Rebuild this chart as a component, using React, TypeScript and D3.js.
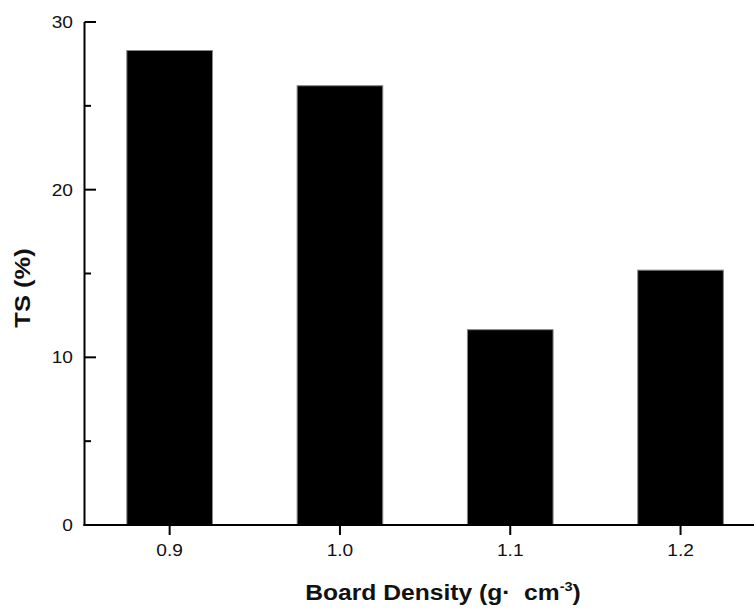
import React from 'react';
import * as d3 from 'd3';

const densities = [0.9, 1.0, 1.1, 1.2];
const tsValues = [28.3, 26.2, 11.65, 15.2];
const yTicks = [0, 10, 20, 30];
const yMinorTicks = [5, 15, 25];

export default function App() {
  const width = 754;
  const height = 612;

  const xScale = d3.scaleLinear().domain([0.85, 1.25]).range([84.5, 765.7]);
  const yScale = d3.scaleLinear().domain([0, 30]).range([525, 22]);
  const barW = xScale(0.9 + 0.05) - xScale(0.9) + 0.5;

  const font = 'Arial, "Liberation Sans", sans-serif';
  const sx = 1.16; // the original text is a bit wide

  return (
    <svg
      width={width}
      height={height}
      style={{ position: 'absolute', left: 0, top: 0, background: '#fff' }}
    >
      {/* bars */}
      {densities.map((d, i) => (
        <rect
          key={d}
          x={xScale(d) - barW / 2}
          y={yScale(tsValues[i])}
          width={barW}
          height={yScale(0) - yScale(tsValues[i])}
          fill="#000"
          stroke="#888"
          strokeWidth={1}
        />
      ))}

      {/* y axis */}
      <line x1={84.5} x2={84.5} y1={yScale(30)} y2={yScale(0) + 1} stroke="#000" strokeWidth={2} />
      {yTicks.map((t) => (
        <g key={t}>
          <line x1={84.5} x2={96} y1={yScale(t)} y2={yScale(t)} stroke="#000" strokeWidth={2} />
          <g transform={`translate(73,${yScale(t)}) scale(${sx},1)`}>
            <text dy="0.36em" textAnchor="end" fontFamily={font} fontSize={16.5} fill="#111">
              {t}
            </text>
          </g>
        </g>
      ))}
      {yMinorTicks.map((t) => (
        <line key={t} x1={84.5} x2={91} y1={yScale(t)} y2={yScale(t)} stroke="#000" strokeWidth={2} />
      ))}

      {/* x axis */}
      <line x1={83.5} x2={width} y1={yScale(0)} y2={yScale(0)} stroke="#000" strokeWidth={2} />
      {densities.map((d) => (
        <g key={d}>
          <line x1={xScale(d)} x2={xScale(d)} y1={yScale(0)} y2={yScale(0) + 10} stroke="#000" strokeWidth={2} />
          <g transform={`translate(${xScale(d)},550) scale(${sx},1)`}>
            <text dy="0.36em" textAnchor="middle" fontFamily={font} fontSize={16.5} fill="#111">
              {d.toFixed(1)}
            </text>
          </g>
        </g>
      ))}

      {/* axis titles */}
      <g transform={`translate(443,600) scale(1.12,1)`}>
        <text textAnchor="middle" fontFamily={font} fontSize={22} fontWeight="bold" fill="#111">
          {'Board Density (g·\u00A0\u00A0cm'}
          <tspan dy={-9} fontSize={13}>-3</tspan>
          <tspan dy={9}>)</tspan>
        </text>
      </g>
      <g transform="translate(30,288) rotate(-90) scale(1.16,1)">
        <text textAnchor="middle" fontFamily={font} fontSize={22} fontWeight="bold" fill="#111">
          TS (%)
        </text>
      </g>
    </svg>
  );
}
